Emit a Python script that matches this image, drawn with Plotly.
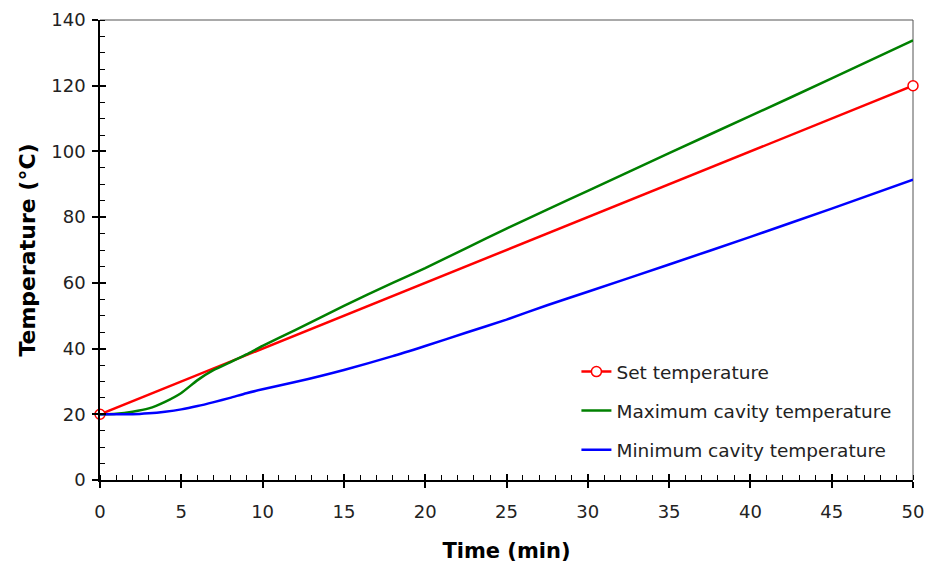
import plotly.graph_objects as go

# Set temperature (linear ramp, markers at ends)
set_time = [0, 50]
set_temp = [20, 120]

# Maximum cavity temperature
max_time = [0, 1, 2, 3, 4, 5, 6, 7, 8, 9, 10, 12, 15, 18, 20, 22.5, 25, 27.5, 30, 35, 40, 45, 50]
max_temp = [20, 20.2, 20.8, 21.8, 23.8, 26.5, 30.4, 33.5, 35.8, 38.2, 40.8, 45.6, 53, 60, 64.5, 70.5, 76.5, 82.3, 88, 99.5, 110.8, 122.2, 133.8]

# Minimum cavity temperature
min_time = [0, 1, 2, 3, 4, 5, 6, 7, 8, 9, 10, 12, 15, 18, 20, 22.5, 25, 27.5, 30, 35, 40, 45, 50]
min_temp = [20, 20, 20, 20.3, 20.8, 21.5, 22.5, 23.7, 25, 26.4, 27.6, 29.8, 33.5, 37.7, 40.8, 44.8, 48.8, 53.2, 57.3, 65.6, 74, 82.6, 91.4]

x_ticks = [0, 5, 10, 15, 20, 25, 30, 35, 40, 45, 50]
y_ticks = [0, 20, 40, 60, 80, 100, 120, 140]

FONT = "DejaVu Sans"

fig = go.Figure()
fig.add_trace(go.Scatter(
    x=set_time, y=set_temp, mode="lines+markers", name="Set temperature", legendgroup="a",
    line=dict(color="#ff0000", width=2.5),
    marker=dict(symbol="circle", size=10, color="white", line=dict(color="#ff0000", width=1.5)),
    cliponaxis=False,
))
fig.add_trace(go.Scatter(
    x=max_time, y=max_temp, mode="lines", name="Maximum cavity temperature", legendgroup="b",
    line=dict(color="#008000", width=2.5, shape="spline", smoothing=0.6),
))
fig.add_trace(go.Scatter(
    x=min_time, y=min_temp, mode="lines", name="Minimum cavity temperature", legendgroup="c",
    line=dict(color="#0000ff", width=2.5, shape="spline", smoothing=0.6),
))
# invisible trace to activate overlay axes (inside part of major ticks)
fig.add_trace(go.Scatter(x=[None], y=[None], xaxis="x2", yaxis="y2", showlegend=False, hoverinfo="skip"))

fig.update_layout(
    width=929, height=568,
    margin=dict(l=100, r=16, t=20, b=88),
    paper_bgcolor="white", plot_bgcolor="white",
    font=dict(family=FONT, size=18, color="#222"),
    showlegend=True,
    legend=dict(
        x=0.586, y=0.276, xanchor="left", yanchor="top",
        bgcolor="rgba(0,0,0,0)", font=dict(family=FONT, size=18.5, color="#222"),
        tracegroupgap=12, itemwidth=30,
    ),
    xaxis=dict(
        range=[0, 50], tickvals=x_ticks, showgrid=False, zeroline=False, automargin=False,
        showline=True, linecolor="black", linewidth=1.5,
        ticks="outside", ticklen=6, tickcolor="black", tickwidth=1.5,
        ticklabelstandoff=9,
        minor=dict(dtick=1, ticks="inside", ticklen=5, tickcolor="black", tickwidth=1, showgrid=False),
        title=dict(text="Time (min)", font=dict(family=FONT, size=21, color="black", weight="bold"), standoff=22),
        tickfont=dict(size=18, color="#222"),
    ),
    yaxis=dict(
        range=[0, 140], tickvals=y_ticks, showgrid=False, zeroline=False, automargin=False,
        showline=True, linecolor="black", linewidth=1.5,
        ticks="outside", ticklen=6, tickcolor="black", tickwidth=1.5,
        ticklabelstandoff=3,
        minor=dict(dtick=5, ticks="inside", ticklen=5, tickcolor="black", tickwidth=1, showgrid=False),
        title=dict(text="Temperature (°C)", font=dict(family=FONT, size=22, color="black", weight="bold"), standoff=10),
        tickfont=dict(size=18, color="#222"),
    ),
    xaxis2=dict(
        overlaying="x", anchor="y", side="bottom", range=[0, 50], tickvals=x_ticks, automargin=False,
        showticklabels=False, showgrid=False, zeroline=False, showline=False,
        ticks="inside", ticklen=6, tickcolor="black", tickwidth=1.5,
    ),
    yaxis2=dict(
        overlaying="y", anchor="x", side="left", range=[0, 140], tickvals=y_ticks, automargin=False,
        showticklabels=False, showgrid=False, zeroline=False, showline=False,
        ticks="inside", ticklen=6, tickcolor="black", tickwidth=1.5,
    ),
    shapes=[
        dict(type="line", xref="paper", yref="paper", x0=0, x1=1, y0=1, y1=1,
             line=dict(color="#555", width=1), layer="below"),
        dict(type="line", xref="paper", yref="paper", x0=1, x1=1, y0=0, y1=1,
             line=dict(color="#555", width=1), layer="below"),
    ],
)

fig.write_html("out.html")
